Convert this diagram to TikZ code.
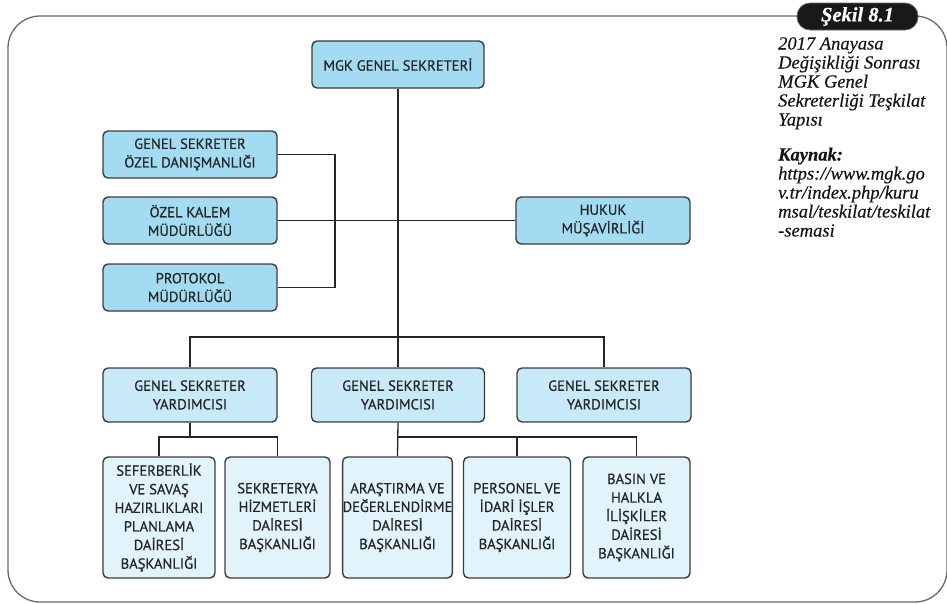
\documentclass[tikz,border=0pt]{standalone}
\usepackage{fontspec}
\newfontfamily\boxfont[FakeBold=0.6]{PT Sans}
\newfontfamily\capfont[FakeBold=0.4]{Liberation Serif}
\definecolor{cA}{HTML}{A3DBF3}
\definecolor{cB}{HTML}{C8E9F7}
\definecolor{cC}{HTML}{E1F3FB}
\definecolor{boxline}{HTML}{3C3C3C}
\definecolor{txt}{HTML}{262626}
\definecolor{framec}{HTML}{6A6A6A}
\tikzset{
  box/.style={draw=boxline, line width=1.4pt, rounded corners=5pt, align=center,
    font={\boxfont\fontsize{14.6}{18.6}\selectfont}, text=txt, inner sep=0pt},
  topbox/.style={box, fill=cA, minimum width=174pt, minimum height=47pt},
  midbox/.style={box, fill=cB, minimum width=174pt, minimum height=54pt},
  lowbox/.style={box, fill=cC, minimum width=107pt, minimum height=121pt},
  conn/.style={draw=black!85, line width=1.3pt},
}
\begin{document}
\begin{tikzpicture}[x=1pt,y=-1pt]
\useasboundingbox (0,0) rectangle (947,603);
% frame
\draw[framec, line width=1.3pt, rounded corners=32pt] (8,16) rectangle (947,602);
\node[fill=black!90, draw=black!60, line width=0.8pt, rounded corners=13pt, minimum width=121pt, minimum height=27pt, inner sep=0pt,
  font={\capfont\bfseries\itshape\fontsize{20.5}{22}\selectfont}, text=white] (sekil) at (857.5,16.5) {Şekil 8.1};
\node[anchor=north west, align=left, inner sep=0pt, text=black!92,
  font={\capfont\itshape\fontsize{18.5}{19}\selectfont}] (cap) at (778,37)
  {2017 Anayasa\\Değişikliği Sonrası\\MGK Genel\\Sekreterliği Teşkilat\\Yapısı\\[16pt]
   {\bfseries Kaynak:}\\https://www.mgk.go\\v.tr/index.php/kuru\\msal/teskilat/teskilat\\-semasi};
% boxes
\node[topbox, minimum width=172pt] (mgk) at (398,64.5) {MGK GENEL SEKRETERİ};
\node[topbox] (gsod) at (190,154.5) {GENEL SEKRETER\\ÖZEL DANIŞMANLIĞI};
\node[topbox] (okm) at (190,220.5) {ÖZEL KALEM\\MÜDÜRLÜĞÜ};
\node[topbox] (pm) at (190,287.5) {PROTOKOL\\MÜDÜRLÜĞÜ};
\node[topbox] (hm) at (603,220.5) {HUKUK\\MÜŞAVİRLİĞİ};
\node[midbox] (gsy1) at (190,395) {GENEL SEKRETER\\YARDIMCISI};
\node[midbox, minimum width=173pt] (gsy2) at (398,395) {GENEL SEKRETER\\YARDIMCISI};
\node[midbox] (gsy3) at (604,395) {GENEL SEKRETER\\YARDIMCISI};
\node[lowbox, minimum width=112pt] (b1) at (159,517.5) {SEFERBERLİK\\VE SAVAŞ\\HAZIRLIKLARI\\PLANLAMA\\DAİRESİ\\BAŞKANLIĞI};
\node[lowbox, minimum width=105pt] (b2) at (277.5,517.5) {SEKRETERYA\\HİZMETLERİ\\DAİRESİ\\BAŞKANLIĞI};
\node[lowbox, minimum width=108pt] (b3) at (397.5,517.5) {ARAŞTIRMA VE\\DEĞERLENDİRME\\DAİRESİ\\BAŞKANLIĞI};
\node[lowbox] (b4) at (517,517.5) {PERSONEL VE\\İDARİ İŞLER\\DAİRESİ\\BAŞKANLIĞI};
\node[lowbox] (b5) at (636.5,517.5) {BASIN VE\\HALKLA\\İLİŞKİLER\\DAİRESİ\\BAŞKANLIĞI};
% junctions
\coordinate (j1) at (398,337);
\coordinate (br) at (335,0);
\coordinate (j2) at (190,437);
\coordinate (j3) at (398,437);
% connectors
\draw[conn] (mgk.south) -- (j1);
\draw[conn] (gsod.east) -- (gsod.east -| br) -- (pm.east -| br) -- (pm.east);
\draw[conn] (okm.east) -- (hm.west);
\draw[conn] (gsy1.north) |- (j1) -| (gsy3.north);
\draw[conn] (j1) -- (gsy2.north);
\draw[conn] (gsy1.south) -- (j2);
\draw[conn] (b1.north) |- (j2) -| (b2.north);
\draw[conn] (gsy2.south) -- (b3.north);
\draw[conn] (j3) -| (b4.north);
\draw[conn] (j3) -| (b5.north);
\end{tikzpicture}
\end{document}
